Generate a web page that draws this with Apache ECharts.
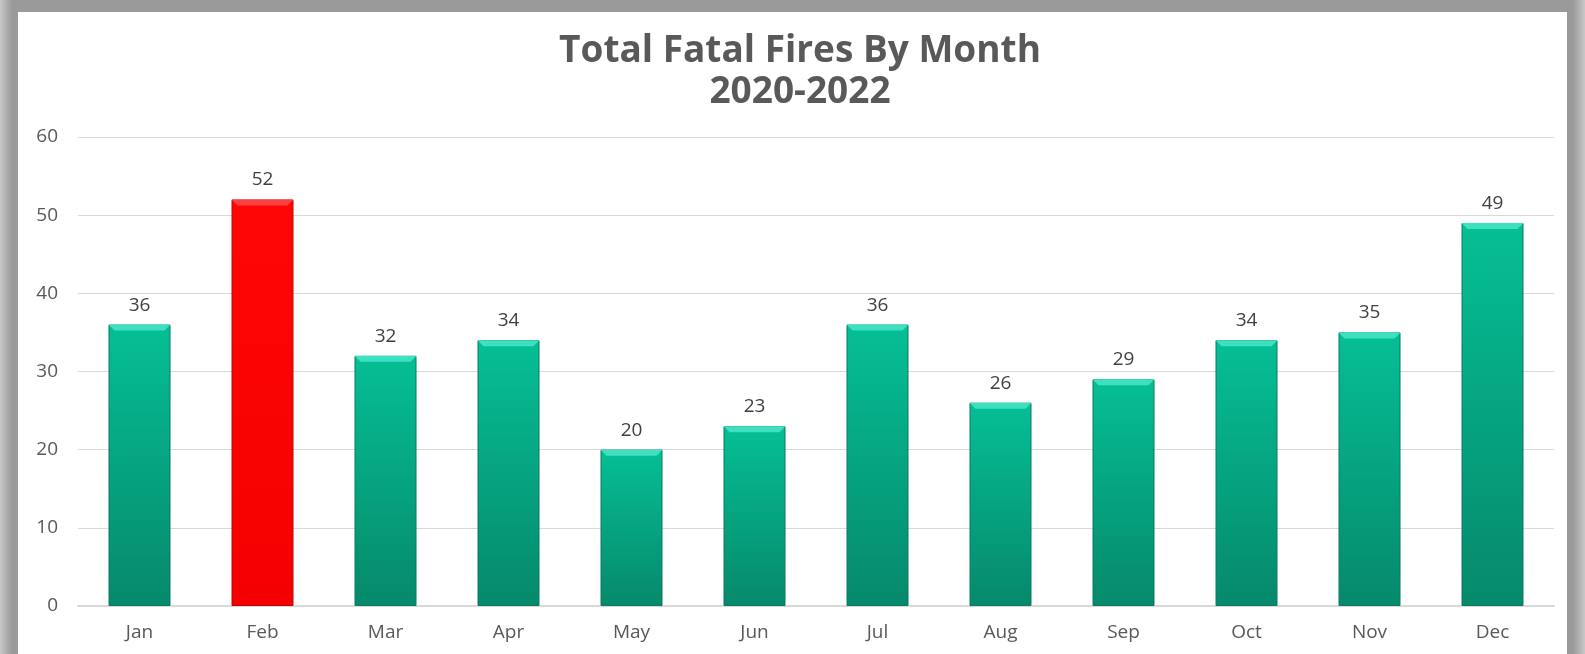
<!DOCTYPE html>
<html>
<head>
<meta charset="utf-8">
<script src="https://cdn.jsdelivr.net/npm/echarts@6/dist/echarts.min.js"></script>
<style>
  html, body { margin: 0; padding: 0; background: #fff; }
  #frame {
    position: absolute; left: 0; top: 0; width: 1585px; height: 654px;
    background: linear-gradient(to right, #c8c8c8 0px, #9a9a9a 12px, #9a9a9a 1573px, #c8c8c8 1585px);
    overflow: hidden;
  }
  #chart {
    position: absolute; left: 18px; top: 12px; width: 1549px; height: 642px;
    background: #fff;
  }
</style>
</head>
<body>
<div id="frame"><div id="chart"></div></div>
<script>
const months = ['Jan', 'Feb', 'Mar', 'Apr', 'May', 'Jun', 'Jul', 'Aug', 'Sep', 'Oct', 'Nov', 'Dec']
const fatalFires = [36, 52, 32, 34, 20, 23, 36, 26, 29, 34, 35, 49]
const highlightMonth = 'Feb'

const green = {
  body: new echarts.graphic.LinearGradient(0, 0, 0, 1, [
    { offset: 0, color: '#05bf95' },
    { offset: 1, color: '#06896b' }
  ]),
  cap: '#3fe0c0',
  edge: '#0a7a60'
}
const red = {
  body: new echarts.graphic.LinearGradient(0, 0, 0, 1, [
    { offset: 0, color: '#ff0606' },
    { offset: 1, color: '#f50000' }
  ]),
  cap: '#ff4040',
  edge: '#c80000'
}

const palette = m => (m === highlightMonth ? red : green)
const labelFont = 'Open Sans'

const chart = echarts.init(document.getElementById('chart'))

chart.setOption({
  animation: false,
  title: {
    text: 'Total Fatal Fires By Month\n2020-2022',
    left: 777,
    textAlign: 'center',
    top: 14,
    textStyle: {
      fontFamily: labelFont,
      fontWeight: 'bold',
      fontSize: 37,
      lineHeight: 41,
      color: '#595959'
    }
  },
  grid: { left: 60, right: 13, top: 125, bottom: 48 },
  xAxis: {
    type: 'category',
    data: months,
    axisTick: { show: false },
    axisLine: { lineStyle: { color: '#d9d9d9', width: 2 } },
    axisLabel: { fontFamily: labelFont, fontSize: 19, color: '#595959', margin: 17 }
  },
  yAxis: {
    type: 'value',
    min: 0,
    max: 60,
    interval: 10,
    axisLine: { show: false },
    axisTick: { show: false },
    splitLine: { lineStyle: { color: '#d9d9d9', width: 1 } },
    axisLabel: { fontFamily: labelFont, fontSize: 19, color: '#595959', margin: 20 }
  },
  series: [
    {
      type: 'bar',
      barWidth: 62,
      data: fatalFires.map((v, i) => ({
        value: v,
        itemStyle: {
          color: palette(months[i]).body,
          borderColor: palette(months[i]).edge,
          borderWidth: 1
        }
      })),
      label: {
        show: true,
        position: 'top',
        distance: 10,
        fontFamily: labelFont,
        fontSize: 19,
        color: '#404040'
      },
      z: 2
    },
    {
      // bevelled top edge of each bar
      type: 'pictorialBar',
      symbol: 'path://M0,0 H62 L56,6 H6 Z',
      symbolSize: [62, 6],
      symbolPosition: 'end',
      symbolOffset: [0, 0],
      silent: true,
      barGap: '-100%',
      data: fatalFires.map((v, i) => ({
        value: v,
        itemStyle: { color: palette(months[i]).cap }
      })),
      z: 3
    }
  ]
})
</script>
</body>
</html>
